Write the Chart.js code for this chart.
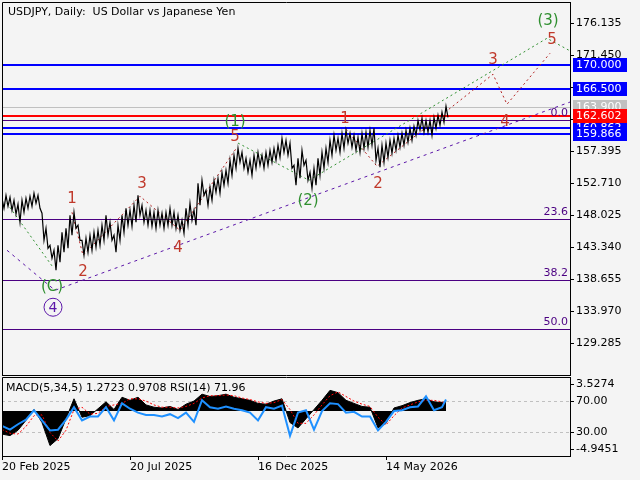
<!DOCTYPE html>
<html>
<head>
<meta charset="utf-8">
<script src="https://cdn.jsdelivr.net/npm/chart.js@4.4.1/dist/chart.umd.min.js"></script>
<style>
  html, body { margin: 0; padding: 0; background: #f4f4f4; }
  #wrap { position: relative; width: 640px; height: 480px; overflow: hidden; }
  #mainBox { position: absolute; left: 0; top: 0; width: 640px; height: 376px; }
  #subBox { position: absolute; left: 0; top: 376px; width: 640px; height: 104px; }
</style>
</head>
<body>
<div id="wrap">
  <div id="mainBox"><canvas id="mainChart"></canvas></div>
  <div id="subBox"><canvas id="subChart"></canvas></div>
</div>
<script>
// ---- data ----
const chartTitle = "USDJPY, Daily:  US Dollar vs Japanese Yen";
const oscTitle = "MACD(5,34,5) 1.2723 0.9708 RSI(14) 71.96";

const dateLabels = ["20 Feb 2025", "20 Jul 2025", "16 Dec 2025", "14 May 2026"];
const dateBars = [0, 64, 128, 192];

const priceTicks = [176.135, 171.450, 166.765, 162.080, 157.395, 152.710, 148.025, 143.340, 138.655, 133.970, 129.285];

// high / low every second bar
const priceHigh = [150.51,150.95,150.66,150.22,149.64,150.22,150.51,150.81,151.25,150.95,
  148.32,146.12,143.63,142.90,143.63,145.54,146.12,148.02,148.46,146.56,
  144.36,144.66,145.10,145.54,145.83,146.56,148.02,147.00,145.10,146.56,
  148.02,149.05,148.76,149.49,150.95,149.49,148.76,148.76,148.46,148.76,
  148.32,148.46,149.05,148.46,148.02,147.29,149.05,149.78,148.76,152.71,
  153.15,151.68,152.12,153.15,153.44,154.32,154.61,156.08,156.81,157.83,
  157.25,156.37,156.08,156.81,157.25,156.81,157.25,157.54,157.83,158.27,
  159.30,159.00,158.57,155.34,156.37,157.54,156.08,154.32,154.91,156.37,
  157.25,157.83,159.00,159.74,159.30,160.03,160.47,160.03,159.74,159.44,
  160.03,160.18,160.47,160.76,157.83,158.27,158.57,159.00,159.30,159.74,
  160.03,160.47,160.76,161.05,161.93,162.23,161.93,161.93,162.37,162.67,
  163.10,163.98];
const priceLow = [149.05,149.34,148.76,148.17,147.00,148.46,149.05,149.34,149.78,149.05,
  144.36,143.19,141.73,139.97,141.14,142.61,143.19,145.10,146.12,144.36,
  142.17,142.61,142.90,143.34,143.63,144.36,145.10,144.36,142.61,144.36,
  145.54,146.56,146.41,147.00,148.02,147.00,146.56,146.41,146.12,146.56,
  146.12,146.56,146.56,146.12,145.83,145.39,146.56,147.29,146.56,149.49,
  150.95,149.49,150.22,151.39,151.25,152.42,152.71,153.88,154.91,155.78,
  154.91,154.32,153.88,154.91,155.34,154.91,155.34,155.78,156.08,156.52,
  157.25,156.81,154.91,152.42,153.44,155.34,153.15,151.98,152.42,153.88,
  154.91,155.78,156.81,157.54,157.25,157.83,158.57,157.98,157.54,157.25,
  157.83,157.98,158.27,156.08,155.05,155.78,156.52,157.10,157.54,157.98,
  158.27,158.71,159.00,159.74,160.47,160.18,160.18,159.74,160.76,161.20,
  161.64,162.37];

// horizontal levels
const bidPrice = 162.602;
const markPrice = 163.900;
const zoneLevels = [170.000, 166.500, 160.862, 159.866];
const fibNames = ["0.0", "23.6", "38.2", "50.0"];
const fibPrices = [161.98, 147.44, 138.55, 131.33];

// wave paths (bar, price)
const pathCBars = [2.5, 25.5];
const pathCPrices = [149.78, 140.41];
const pathMainBars = [118, 153.5, 272.5, 284];
const pathMainPrices = [158.6, 153.15, 173.94, 172.10];
const pathTrendBars = [2.5, 26.5, 284];
const pathTrendPrices = [142.90, 137.04, 164.60];
const pathMinorABars = [35, 40.5, 69, 89, 117.5];
const pathMinorAPrices = [148.46, 142.17, 150.81, 145.83, 157.98];
const pathMinorBBars = [172, 187.5, 245.5, 252.5, 274];
const pathMinorBPrices = [160.62, 155.20, 168.67, 164.28, 171.74];

// wave labels
const waveTexts = ["(3)", "5", "3", "4", "1", "2", "(2)", "(1)", "5", "3", "4", "1", "2", "(C)", "4"];
const waveBars = [273, 275, 245.5, 251.5, 171.5, 188, 153, 116.5, 116.5, 70, 88, 35, 40.5, 25, 25.5];
const wavePrices = [176.55, 173.76, 170.91, 161.76, 162.27, 152.78, 150.26, 161.83, 159.63, 152.78, 143.31, 150.59, 139.80, 137.67, 134.56];
const waveDegree = ["int", "minor", "minor", "minor", "minor", "minor", "int", "int", "minor", "minor", "minor", "minor", "minor", "int", "primary"];

// oscillator samples (every 4 bars, last bar 222)
const macdMain = [-3.0,-3.2,-2.5,-1.2,0.2,-1.5,-4.5,-3.6,-1.0,1.6,
  -0.8,-0.6,0.3,1.2,0.2,1.8,1.4,1.8,0.8,0.5,
  0.4,0.6,0.2,0.9,1.3,2.2,1.9,2.0,2.2,1.8,
  1.6,1.4,1.0,0.9,1.3,1.6,-1.5,-2.2,-1.0,0.2,
  1.4,2.7,2.4,1.4,1.0,0.6,0.5,-2.2,-1.6,0.4,
  0.7,1.1,1.4,1.6,1.2,1.1,1.2723];
const macdSignal = [-2.4,-2.9,-3.0,-2.0,-0.6,-0.5,-2.8,-3.9,-2.5,0.2,
  0.5,-0.4,-0.3,0.6,0.8,1.0,1.6,1.6,1.3,0.8,
  0.5,0.5,0.4,0.6,1.0,1.7,2.0,2.0,2.1,2.0,
  1.7,1.5,1.2,1.0,1.1,1.5,0.2,-1.6,-1.6,-0.5,
  0.8,2.0,2.5,1.9,1.3,0.9,0.6,-0.8,-1.8,-0.6,
  0.4,0.8,1.2,1.4,1.4,1.2,0.9708];
const rsiValues = [38,33,40,46,58,45,32,33,46,62,
  45,50,50,62,45,67,60,55,52,52,
  50,53,48,55,43,71,62,60,63,60,
  58,55,45,62,60,64,25,55,58,33,
  57,67,66,55,56,50,50,32,43,57,
  58,62,63,76,58,62,71.96];
const macdTicks = [3.5274, -4.9451];
const rsiTicks = [70, 30];

// ---- styles ----
const FONT = "DejaVu Sans";
const FIB_COLOR = "#4b0082";
const waveColors = { minor: "#c0392b", int: "#2f8f2f", primary: "#5b16a8" };

// ---- build series ----
const pricePoints = [];
priceHigh.forEach((h, i) => {
  pricePoints.push({ x: i * 2, y: h });
  pricePoints.push({ x: i * 2 + 1, y: priceLow[i] });
});
const toPts = (bars, vals) => bars.map((b, i) => ({ x: b, y: vals[i] }));
const oscBars = macdMain.map((_, k) => (k < macdMain.length - 1 ? k * 4 : 222));

const pathSet = (bars, prices, color, dash) => ({
  data: toPts(bars, prices), borderColor: color, borderWidth: 1,
  borderDash: dash, pointRadius: 0, tension: 0
});

const noPad = ax => { ax.paddingTop = 0; ax.paddingBottom = 0; };

const mainDecor = {
  id: "mainDecor",
  beforeDatasetsDraw(chart) {
    const { ctx, chartArea: a, scales: { y } } = chart;
    const hline = (p, color, w) => {
      const py = Math.round(y.getPixelForValue(p)) + (w % 2 ? 0.5 : 0);
      ctx.strokeStyle = color;
      ctx.lineWidth = w;
      ctx.beginPath();
      ctx.moveTo(a.left, py);
      ctx.lineTo(a.right, py);
      ctx.stroke();
    };
    ctx.save();
    fibPrices.forEach(p => hline(p, FIB_COLOR, 1));
    hline(markPrice, "#c0c0c0", 1);
    zoneLevels.forEach(p => hline(p, "#0000ff", 2));
    hline(bidPrice, "#ff0000", 2);
    ctx.restore();
  },
  afterDatasetsDraw(chart) {
    const { ctx, chartArea: a, scales: { x, y } } = chart;
    ctx.save();
    // fibo level names
    ctx.font = "11px " + FONT;
    ctx.fillStyle = FIB_COLOR;
    ctx.textAlign = "right";
    ctx.textBaseline = "bottom";
    fibPrices.forEach((p, i) => ctx.fillText(fibNames[i], a.right - 2, Math.round(y.getPixelForValue(p)) - 1));
    // wave labels
    ctx.textAlign = "center";
    ctx.textBaseline = "middle";
    waveTexts.forEach((t, i) => {
      const px = x.getPixelForValue(waveBars[i]);
      const py = y.getPixelForValue(wavePrices[i]);
      const col = waveColors[waveDegree[i]];
      ctx.fillStyle = col;
      if (waveDegree[i] === "primary") {
        ctx.strokeStyle = col;
        ctx.lineWidth = 1;
        ctx.beginPath();
        ctx.arc(px, py, 9, 0, Math.PI * 2);
        ctx.stroke();
        ctx.font = "14px " + FONT;
      } else {
        ctx.font = "15px " + FONT;
      }
      ctx.fillText(t, px, py + 1);
    });
    ctx.restore();
  },
  afterDraw(chart) {
    const { ctx, chartArea: a, scales: { y } } = chart;
    ctx.save();
    // frame
    ctx.strokeStyle = "#000";
    ctx.lineWidth = 1;
    ctx.beginPath();
    ctx.moveTo(a.left + 0.5, a.bottom + 0.5);
    ctx.lineTo(a.left + 0.5, a.top + 0.5);
    ctx.lineTo(a.right + 0.5, a.top + 0.5);
    ctx.moveTo(a.left, a.bottom + 0.5);
    ctx.lineTo(a.right + 1, a.bottom + 0.5);
    ctx.stroke();
    // price boxes on the axis
    const boxes = [[170.0, "#0000ff"], [166.5, "#0000ff"], [markPrice, "#c0c0c0"],
      [160.862, "#0000ff"], [bidPrice, "#ff0000"], [159.866, "#0000ff"]];
    ctx.font = "11px " + FONT;
    ctx.textAlign = "left";
    ctx.textBaseline = "middle";
    boxes.forEach(([p, bg]) => {
      const py = Math.round(y.getPixelForValue(p));
      ctx.fillStyle = bg;
      ctx.fillRect(a.right + 3, py - 7, 54, 14);
      ctx.fillStyle = "#fff";
      ctx.fillText(p.toFixed(3), a.right + 6, py + 0.5);
    });
    // title
    ctx.fillStyle = "#000";
    ctx.fillText(chartTitle, 8, 12);
    ctx.restore();
  }
};

const mainChart = new Chart(document.getElementById("mainChart"), {
  type: "line",
  data: {
    datasets: [
      { data: pricePoints, borderColor: "#000", borderWidth: 1.2, pointRadius: 0, tension: 0 },
      pathSet(pathCBars, pathCPrices, "#2f8f2f", [2, 3]),
      pathSet(pathMainBars, pathMainPrices, "#2f8f2f", [2, 3]),
      pathSet(pathTrendBars, pathTrendPrices, "#5b16a8", [3, 4]),
      pathSet(pathMinorABars, pathMinorAPrices, "#b22222", [2, 3]),
      pathSet(pathMinorBBars, pathMinorBPrices, "#b22222", [2, 3])
    ]
  },
  options: {
    animation: false,
    responsive: true,
    maintainAspectRatio: false,
    events: [],
    layout: { padding: { left: 2, top: 2, bottom: 1, right: 0 } },
    plugins: { legend: { display: false }, tooltip: { enabled: false } },
    scales: {
      x: { type: "linear", min: 0, max: 284, display: false },
      y: {
        position: "right", min: 124.64, max: 179.25,
        afterBuildTicks: ax => { ax.ticks = priceTicks.map(v => ({ value: v })); },
        afterFit: ax => { ax.width = 70; noPad(ax); },
        ticks: { color: "#000", font: { family: FONT, size: 11 }, padding: 2, callback: v => v.toFixed(3) },
        grid: { drawOnChartArea: false, drawTicks: true, tickLength: 4, color: "#000" },
        border: { display: true, color: "#000", width: 1 }
      }
    }
  },
  plugins: [mainDecor]
});

const subDecor = {
  id: "subDecor",
  beforeDatasetsDraw(chart) {
    const { ctx, chartArea: a, scales: { rsi } } = chart;
    ctx.save();
    ctx.strokeStyle = "#c0c0c0";
    ctx.lineWidth = 1;
    ctx.setLineDash([3, 3]);
    rsiTicks.forEach(v => {
      const py = Math.round(rsi.getPixelForValue(v)) + 0.5;
      ctx.beginPath();
      ctx.moveTo(a.left, py);
      ctx.lineTo(a.right, py);
      ctx.stroke();
    });
    ctx.restore();
  },
  afterDraw(chart) {
    const { ctx, chartArea: a, scales: { rsi, macd } } = chart;
    ctx.save();
    ctx.strokeStyle = "#000";
    ctx.lineWidth = 1;
    ctx.beginPath();
    ctx.moveTo(a.left + 0.5, a.bottom + 0.5);
    ctx.lineTo(a.left + 0.5, a.top + 0.5);
    ctx.lineTo(a.right + 0.5, a.top + 0.5);
    ctx.stroke();
    ctx.font = "11px " + FONT;
    ctx.fillStyle = "#000";
    ctx.textAlign = "left";
    ctx.textBaseline = "middle";
    const marks = [
      [macd.getPixelForValue(macdTicks[0]), macdTicks[0].toFixed(4)],
      [rsi.getPixelForValue(rsiTicks[0]), rsiTicks[0].toFixed(2)],
      [rsi.getPixelForValue(rsiTicks[1]), rsiTicks[1].toFixed(2)],
      [macd.getPixelForValue(macdTicks[1]), macdTicks[1].toFixed(4)]
    ];
    marks.forEach(([py, txt]) => {
      const ry = Math.round(py) + 0.5;
      ctx.beginPath();
      ctx.moveTo(a.right, ry);
      ctx.lineTo(a.right + 4, ry);
      ctx.stroke();
      ctx.fillText(txt, a.right + 6, ry);
    });
    ctx.fillText(oscTitle, 6, a.top + 11);
    ctx.restore();
  }
};

const subChart = new Chart(document.getElementById("subChart"), {
  type: "line",
  data: {
    datasets: [
      { data: toPts(oscBars, rsiValues), yAxisID: "rsi", borderColor: "#1e90ff", borderWidth: 2, pointRadius: 0, tension: 0 },
      { data: toPts(oscBars, macdSignal), yAxisID: "macd", borderColor: "#ff0000", borderWidth: 1, borderDash: [2, 2], pointRadius: 0, tension: 0 },
      { data: toPts(oscBars, macdMain), yAxisID: "macd", borderColor: "#000", backgroundColor: "#000", fill: "origin", borderWidth: 1, pointRadius: 0, tension: 0 }
    ]
  },
  options: {
    animation: false,
    responsive: true,
    maintainAspectRatio: false,
    events: [],
    layout: { padding: { left: 2, top: 1, bottom: 0, right: 0 } },
    plugins: { legend: { display: false }, tooltip: { enabled: false } },
    scales: {
      x: {
        type: "linear", min: 0, max: 284, position: "bottom",
        afterBuildTicks: ax => { ax.ticks = dateBars.map(v => ({ value: v })); },
        afterFit: ax => { ax.height = 24; ax.paddingLeft = 0; ax.paddingRight = 0; },
        ticks: {
          color: "#000", font: { family: FONT, size: 11 }, padding: 1, align: "start",
          maxRotation: 0, autoSkip: false,
          callback: v => dateLabels[dateBars.indexOf(v)]
        },
        grid: { drawOnChartArea: false, drawTicks: true, tickLength: 4, color: "#000" },
        border: { display: true, color: "#000", width: 1 }
      },
      rsi: {
        position: "right", min: -0.97, max: 100.97,
        afterFit: ax => { ax.width = 70; noPad(ax); },
        ticks: { display: false },
        grid: { drawOnChartArea: false, drawTicks: false },
        border: { display: true, color: "#000", width: 1 }
      },
      macd: { display: false, min: -5.857, max: 4.44 }
    }
  },
  plugins: [subDecor]
});
</script>
</body>
</html>
